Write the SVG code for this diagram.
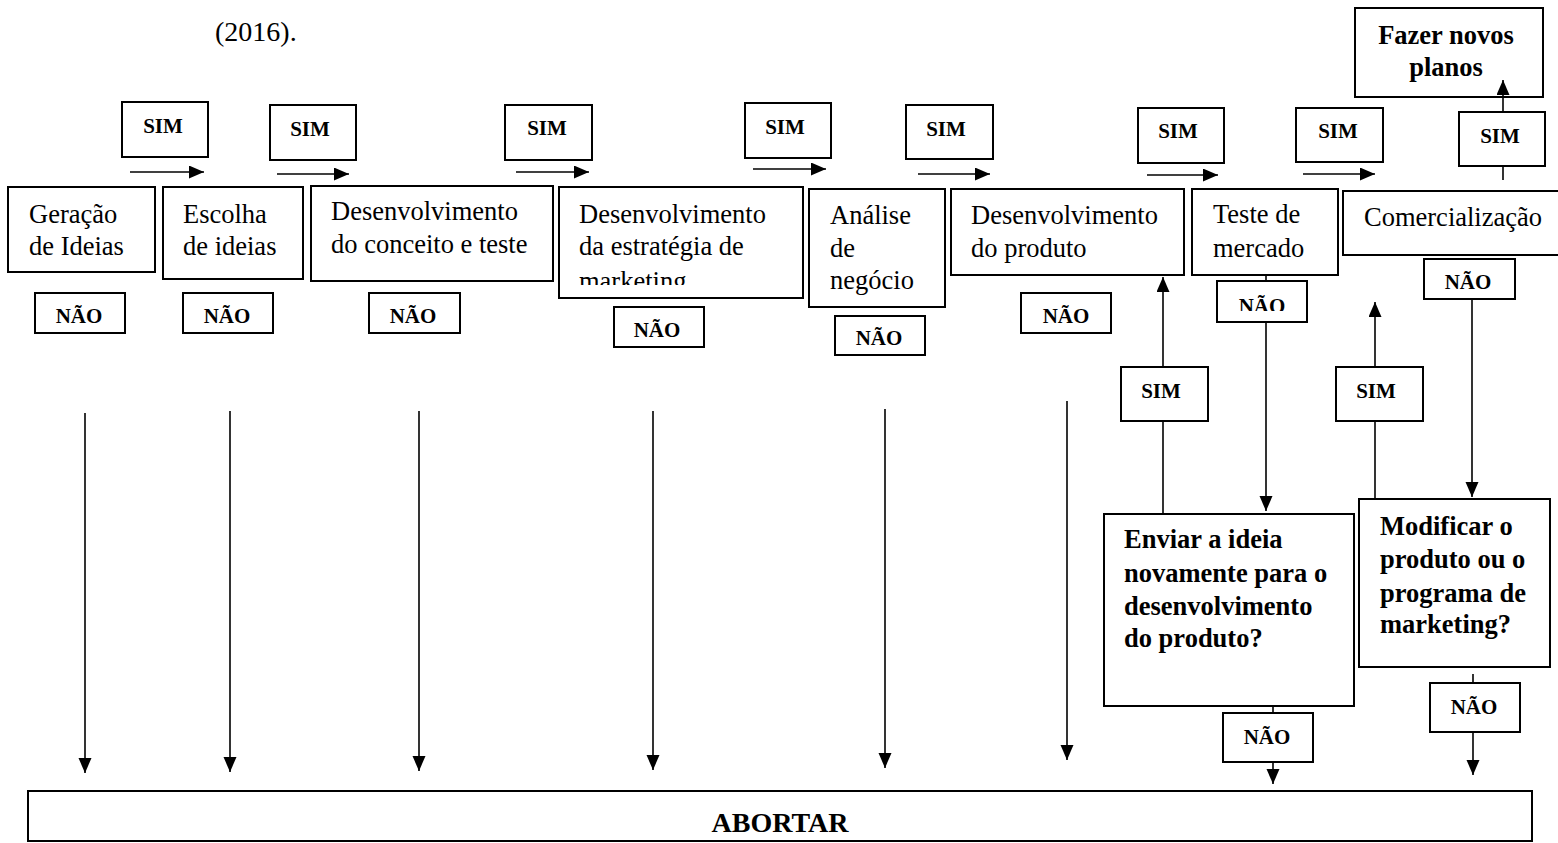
<svg xmlns="http://www.w3.org/2000/svg" width="1558" height="843" viewBox="0 0 1558 843">
<style>
.box{fill:#fff;stroke:#000;stroke-width:2}
.t{font-family:"Liberation Serif","Times New Roman",serif;font-size:26.5px;fill:#000}
.b{font-family:"Liberation Serif","Times New Roman",serif;font-size:26.5px;font-weight:bold;fill:#000}
.l{font-family:"Liberation Serif","Times New Roman",serif;font-size:21px;font-weight:bold;fill:#000;text-anchor:middle}
.c{fill:none;stroke:#000;stroke-width:1.6}
</style>
<defs>
<marker id="ah" markerUnits="userSpaceOnUse" markerWidth="16" markerHeight="14" refX="15" refY="6.5" orient="auto"><path d="M0,0 L15,6.5 L0,13 z" fill="#000"/></marker>
<clipPath id="clipEstr"><rect x="559" y="187" width="244" height="98"/></clipPath>
<clipPath id="clipNao"><rect x="1217" y="281" width="90" height="30"/></clipPath>
</defs>
<rect width="1558" height="843" fill="#fff"/>
<text class="t" x="215" y="41" style="font-size:28px">(2016).</text>

<g id="fazer"><rect class="box" x="1355" y="8" width="188" height="89"/><text class="b" x="1446" y="44" text-anchor="middle">Fazer novos</text><text class="b" x="1446" y="76" text-anchor="middle">planos</text></g>

<g id="sim1"><rect class="box" x="122" y="102" width="86" height="55"/><text class="l" x="163" y="133">SIM</text></g>
<g id="sim2"><rect class="box" x="270" y="105" width="86" height="55"/><text class="l" x="310" y="136">SIM</text></g>
<g id="sim3"><rect class="box" x="505" y="105" width="87" height="55"/><text class="l" x="547" y="135">SIM</text></g>
<g id="sim4"><rect class="box" x="745" y="103" width="86" height="55"/><text class="l" x="785" y="134">SIM</text></g>
<g id="sim5"><rect class="box" x="906" y="105" width="87" height="54"/><text class="l" x="946" y="136">SIM</text></g>
<g id="sim6"><rect class="box" x="1138" y="108" width="86" height="55"/><text class="l" x="1178" y="138">SIM</text></g>
<g id="sim7"><rect class="box" x="1296" y="108" width="87" height="54"/><text class="l" x="1338" y="138">SIM</text></g>
<g id="sim8"><rect class="box" x="1459" y="112" width="86" height="54"/><text class="l" x="1500" y="143">SIM</text></g>
<g id="sim9"><rect class="box" x="1121" y="367" width="87" height="54"/><text class="l" x="1161" y="398">SIM</text></g>
<g id="sim10"><rect class="box" x="1336" y="367" width="87" height="54"/><text class="l" x="1376" y="398">SIM</text></g>

<g id="geracao"><rect class="box" x="8" y="187" width="147" height="85"/><text class="t" x="29" y="223">Geração</text><text class="t" x="29" y="255">de Ideias</text></g>
<g id="escolha"><rect class="box" x="163" y="187" width="140" height="92"/><text class="t" x="183" y="223">Escolha</text><text class="t" x="183" y="255">de ideias</text></g>
<g id="conceito"><rect class="box" x="311" y="186" width="242" height="95"/><text class="t" x="331" y="220">Desenvolvimento</text><text class="t" x="331" y="253">do conceito e teste</text></g>
<g id="estrategia"><rect class="box" x="559" y="187" width="244" height="111"/><text class="t" x="579" y="223">Desenvolvimento</text><text class="t" x="579" y="255">da estratégia de</text><text class="t" x="579" y="290" clip-path="url(#clipEstr)">marketing</text></g>
<g id="analise"><rect class="box" x="809" y="189" width="136" height="118"/><text class="t" x="830" y="224">Análise</text><text class="t" x="830" y="257">de</text><text class="t" x="830" y="289">negócio</text></g>
<g id="produto"><rect class="box" x="951" y="189" width="233" height="86"/><text class="t" x="971" y="224">Desenvolvimento</text><text class="t" x="971" y="257">do produto</text></g>
<g id="teste"><rect class="box" x="1192" y="189" width="146" height="86"/><text class="t" x="1213" y="223">Teste de</text><text class="t" x="1213" y="257">mercado</text></g>
<g id="comercializacao"><rect class="box" x="1343" y="191" width="220" height="64"/><text class="t" x="1364" y="226">Comercialização</text></g>

<g id="nao1"><rect class="box" x="35" y="293" width="90" height="40"/><text class="l" x="79" y="323">NÃO</text></g>
<g id="nao2"><rect class="box" x="183" y="293" width="90" height="40"/><text class="l" x="227" y="323">NÃO</text></g>
<g id="nao3"><rect class="box" x="369" y="293" width="91" height="40"/><text class="l" x="413" y="323">NÃO</text></g>
<g id="nao4"><rect class="box" x="614" y="307" width="90" height="40"/><text class="l" x="657" y="337">NÃO</text></g>
<g id="nao5"><rect class="box" x="835" y="316" width="90" height="39"/><text class="l" x="879" y="345">NÃO</text></g>
<g id="nao6"><rect class="box" x="1021" y="293" width="90" height="40"/><text class="l" x="1066" y="323">NÃO</text></g>
<g id="nao7"><rect class="box" x="1217" y="281" width="90" height="41"/><text class="l" x="1262" y="313" clip-path="url(#clipNao)">NÃO</text></g>
<g id="nao8"><rect class="box" x="1424" y="259" width="91" height="40"/><text class="l" x="1468" y="289">NÃO</text></g>
<g id="nao9"><rect class="box" x="1223" y="713" width="90" height="49"/><text class="l" x="1267" y="744">NÃO</text></g>
<g id="nao10"><rect class="box" x="1430" y="683" width="90" height="49"/><text class="l" x="1474" y="714">NÃO</text></g>

<g id="enviar"><rect class="box" x="1104" y="514" width="250" height="192"/><text class="b" x="1124" y="548">Enviar a ideia</text><text class="b" x="1124" y="582">novamente para o</text><text class="b" x="1124" y="615">desenvolvimento</text><text class="b" x="1124" y="647">do produto?</text></g>
<g id="modificar"><rect class="box" x="1359" y="499" width="191" height="168"/><text class="b" x="1380" y="535">Modificar o</text><text class="b" x="1380" y="568">produto ou o</text><text class="b" x="1380" y="602">programa de</text><text class="b" x="1380" y="633">marketing?</text></g>

<g id="abortar"><rect class="box" x="28" y="791" width="1504" height="50"/><text class="b" x="780" y="832" text-anchor="middle" style="font-size:28px">ABORTAR</text></g>

<g id="connectors">
<line class="c" x1="130" y1="172" x2="204" y2="172" marker-end="url(#ah)"/>
<line class="c" x1="277" y1="174" x2="349" y2="174" marker-end="url(#ah)"/>
<line class="c" x1="516" y1="172" x2="589" y2="172" marker-end="url(#ah)"/>
<line class="c" x1="753" y1="169" x2="826" y2="169" marker-end="url(#ah)"/>
<line class="c" x1="918" y1="174" x2="990" y2="174" marker-end="url(#ah)"/>
<line class="c" x1="1147" y1="175" x2="1218" y2="175" marker-end="url(#ah)"/>
<line class="c" x1="1303" y1="174" x2="1375" y2="174" marker-end="url(#ah)"/>
<line class="c" x1="1503" y1="111" x2="1503" y2="80" marker-end="url(#ah)"/>
<line class="c" x1="1503" y1="167" x2="1503" y2="180"/>
<line class="c" x1="85" y1="413" x2="85" y2="773" marker-end="url(#ah)"/>
<line class="c" x1="230" y1="411" x2="230" y2="772" marker-end="url(#ah)"/>
<line class="c" x1="419" y1="411" x2="419" y2="771" marker-end="url(#ah)"/>
<line class="c" x1="653" y1="411" x2="653" y2="770" marker-end="url(#ah)"/>
<line class="c" x1="885" y1="409" x2="885" y2="768" marker-end="url(#ah)"/>
<line class="c" x1="1067" y1="401" x2="1067" y2="760" marker-end="url(#ah)"/>
<line class="c" x1="1163" y1="366" x2="1163" y2="277" marker-end="url(#ah)"/>
<line class="c" x1="1163" y1="422" x2="1163" y2="513"/>
<line class="c" x1="1266" y1="276" x2="1266" y2="280"/>
<line class="c" x1="1266" y1="323" x2="1266" y2="511" marker-end="url(#ah)"/>
<line class="c" x1="1375" y1="366" x2="1375" y2="302" marker-end="url(#ah)"/>
<line class="c" x1="1375" y1="422" x2="1375" y2="498"/>
<line class="c" x1="1472" y1="300" x2="1472" y2="497" marker-end="url(#ah)"/>
<line class="c" x1="1273" y1="707" x2="1273" y2="712"/>
<line class="c" x1="1273" y1="763" x2="1273" y2="784" marker-end="url(#ah)"/>
<line class="c" x1="1473" y1="674" x2="1473" y2="682"/>
<line class="c" x1="1473" y1="733" x2="1473" y2="775" marker-end="url(#ah)"/>
</g>
</svg>
